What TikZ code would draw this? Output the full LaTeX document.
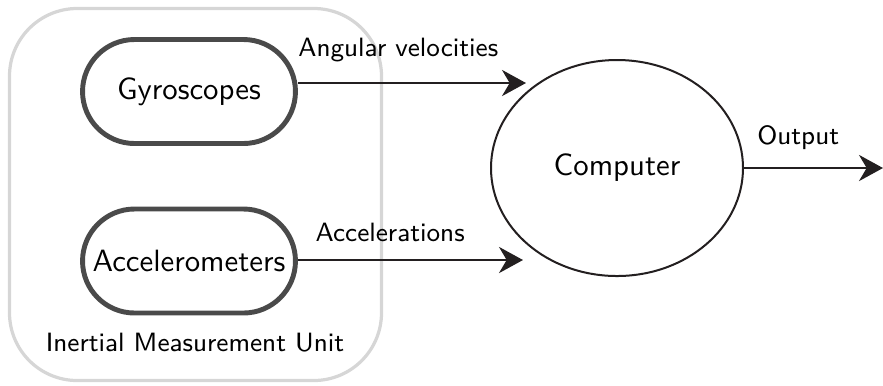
\documentclass[tikz,border=0pt]{standalone}
\usepackage{tikz}
\usetikzlibrary{arrows.meta,shapes.geometric,positioning}
\definecolor{unitgray}{HTML}{D6D6D6}
\definecolor{sensorgray}{HTML}{4A4A4A}
\definecolor{inkblack}{HTML}{231F20}

\begin{document}
\begin{tikzpicture}[x=0.325pt, y=-0.325pt, font=\sffamily,
  unit/.style={rectangle, rounded corners=22pt, draw=unitgray,
               line width=1.05pt, minimum width=120.9pt, minimum height=120.9pt},
  sensor/.style={rectangle, rounded corners=16.9pt, draw=sensorgray,
                 line width=1.6pt, minimum width=69.2pt, minimum height=33.8pt,
                 inner sep=0pt},
  cpu/.style={ellipse, draw=inkblack, line width=0.65pt, inner sep=0pt,
              minimum width=81.9pt, minimum height=70.2pt},
  lab/.style={font=\sffamily\fontsize{8.6}{10}\selectfont, inner sep=0pt},
  arr/.style={draw=inkblack, line width=0.8pt,
              -{Stealth[length=7.8pt, width=8.5pt, inset=2.5pt]}}]
\useasboundingbox (0,0) rectangle (883,385);
\node[unit] (imu) at (195.5,194.5) {};
\node[sensor] (gyro) at (189,91.5) {Gyroscopes};
\node[sensor] (acc) at (189,261) {Accelerometers};
\node[lab] (imulab) at (195,343) {Inertial Measurement Unit};
\node[cpu] (comp) at (617,168) {Computer};
\coordinate (angin) at (526,83);
\coordinate (accin) at (523,260);
\coordinate (out) at (883,168);
\draw[arr] (gyro.east |- angin) -- node[lab, pos=0.44, above=6.5pt]
  {Angular velocities} (angin);
\draw[arr] (acc.east |- accin) -- node[lab, pos=0.41, above=5.5pt]
  {Accelerations} (accin);
\draw[arr] (comp.east) -- node[lab, pos=0.39, above=5.5pt] {Output} (out);
\end{tikzpicture}
\end{document}
